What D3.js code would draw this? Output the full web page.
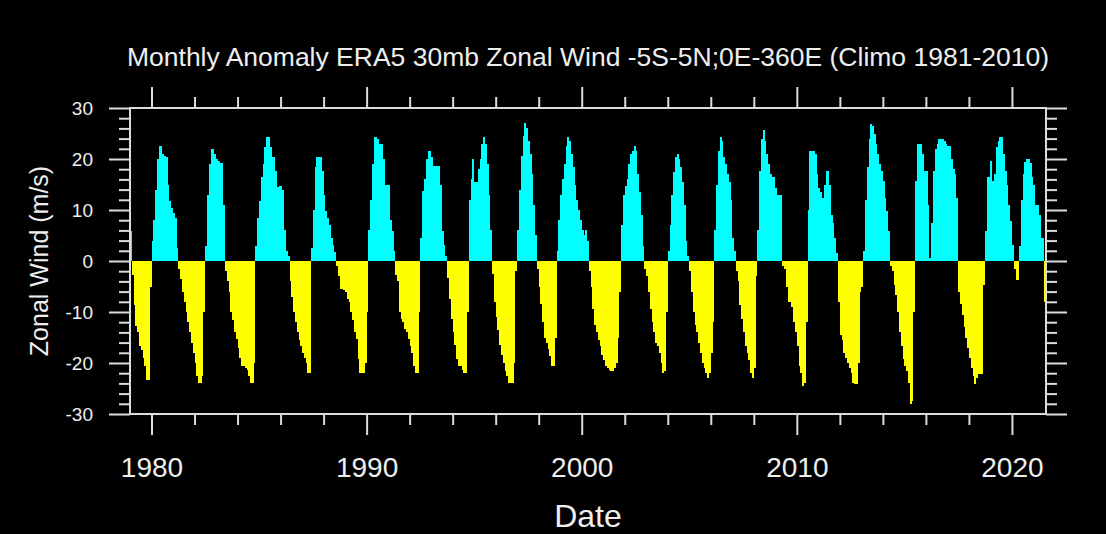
<!DOCTYPE html>
<html>
<head>
<meta charset="utf-8">
<script src="https://cdn.jsdelivr.net/npm/d3@7"></script>
<style>
  html, body { margin: 0; padding: 0; background: #000; }
  svg { display: block; }
</style>
</head>
<body>
<div id="chart"></div>
<script>
// monthly 30mb zonal wind anomaly (m/s), one row per year, Jan..Dec
var startYear = 1979;

var anom1979 = [5.8, -2.8, -8.7, -12.7, -14, -16.6, -17.5, -19, -20.5, -23.4, -23.4, -5];

var anom1980s = [
  4, 8, 14, 20, 22.6, 22.6, 21, 20.6, 20.3, 15, 11.7, 10.4,
  9.5, 8.4, 2.5, -1.5, -3.5, -6, -8, -10, -12, -14, -16, -18,
  -20, -22.5, -24, -24, -22.6, -10, 3, 13, 19, 22, 22, 21,
  20, 19.7, 19.3, 19.3, 11, -2, -4, -6, -10, -11.5, -14, -15.3,
  -17, -19, -20.5, -20.6, -21, -21.3, -22.5, -24, -24, -20, 3, 8.4,
  11.7, 16.4, 19, 22.3, 24.3, 24.3, 22.3, 20.3, 20.3, 17.7, 14.5, 14.7,
  14.7, 14, 6, 2, 1, -4, -7, -10, -12, -14, -15.5, -16.6,
  -18, -19, -20, -22, -22, 2.5, 10, 18.4, 20.3, 20.3, 20.3, 17.7,
  13, 9.8, 8.4, 7, 4.5, 3.2, 1.8, -1, -3, -5.4, -5.4, -5.7,
  -6, -7.4, -8, -10, -11.5, -14, -15.3, -19.3, -21.9, -22, -22, -20
];

var anom1990s = [
  -10, 6, 12, 19, 24.3, 24.3, 24, 23, 23, 20, 15, 15,
  15, 8, 5.8, 2, -2.8, -4, -10, -11.4, -12, -13.4, -14, -15.3,
  -16.6, -18, -20.5, -22, -22, -10, 4.5, 13.7, 16, 20, 21.6, 21.6,
  20.3, 18.7, 18.7, 18.7, 18.7, 15, 5.8, 3.2, 1, -3.4, -7.4, -11.4,
  -14, -16.5, -19.3, -20.6, -20.6, -21.3, -22, -22, -10, 12, 16, 20,
  15.5, 15.5, 18, 20, 23, 24.3, 23, 19, 13, 6, -2.5, -8,
  -11, -13.5, -16.5, -18.5, -20, -21.5, -22.5, -24, -24, -24, -20, -2,
  6, 14, 20.5, 24.5, 27, 26, 23.5, 21, 17, 11, 5, -1.5,
  -5, -8.5, -12, -15, -16, -17.3, -18.6, -20.5, -20.6, -15, 2, 8,
  13, 16, 19, 22.5, 24.3, 23.5, 21, 18.5, 15, 12, 10, 8
];

var anom2000s = [
  6, 5, 6, 4, -2, -5, -9.5, -12.5, -14, -15.5, -16.6, -18.5,
  -19.5, -20.6, -21, -21.3, -21.6, -21.6, -21, -20, -15, -6, 7, 13,
  14.8, 16, 19, 21, 21.5, 22.6, 21.5, 17, 13.5, 9, 3, -1.5,
  -3, -6, -9.5, -12, -14, -16, -16.6, -18, -20, -22, -21.5, -10,
  2, 7, 13, 17.5, 20.3, 21, 20, 18.5, 15.5, 11, 4, 1,
  -2, -6, -10, -12.5, -14, -16, -18, -20, -21, -22, -23, -22,
  -18, -12, 6, 15, 21.6, 24.3, 23.5, 20.3, 19, 17, 15.4, 12,
  4.5, 2, -2, -4, -8.7, -11.4, -14, -16.6, -18, -19.5, -22, -23,
  -21, -3, 6, 17.7, 24, 25.6, 23.6, 21, 19, 17, 16.4, 16.4,
  14.4, 13, 13, 13, -1, -1.5, -5, -8, -8, -9, -12, -14
];

var anom2010s = [
  -16.6, -20.5, -22, -24.5, -24, -12, 10, 21.6, 21.6, 21.6, 21, 17,
  14.4, 13.5, 12.4, 15, 17.7, 17.7, 15, 9, 7.5, 4.5, 1.5, -8,
  -14.6, -15.5, -18, -19, -20, -21, -22, -24, -24.2, -24.2, -20, -6,
  -5, 2, 12, 18.5, 24, 26.9, 26.5, 25, 23, 21, 19, 17.7,
  15.7, 12.4, 9.8, 5.8, -1, -2, -4.8, -6.7, -10, -14, -16.6, -19.3,
  -20.5, -21.6, -24, -28, -27.5, -10, 15.7, 23, 23, 23, 21, 17.7,
  17.7, 11, 0.5, 7.5, 17.7, 22, 23, 24, 24, 24, 23.5, 23,
  22.6, 22.6, 20, 18, 17, 12.4, -6, -8.5, -10.5, -13, -15, -17,
  -19, -21, -22.6, -24.2, -23, -22.2, -22.2, -22.2, -4.8, 5.8, 16.4, 16.4,
  19.7, 15.7, 17, 22.3, 23.5, 24.3, 24.3, 21, 17.7, 15, 11, 7.8
];

var anom2020s = [
  3.2, -1.5, -3.8, -3.8, 3, 12, 17, 19.5, 20, 20, 19.3, 16.4,
  15, 11, 11, 9, 4.5, 4.5, -8
];

var yMajorTicks = [-30, -20, -10, 0, 10, 20, 30];
var xMajorTicks = [1980, 1990, 2000, 2010, 2020];
var xTickLabels = ["1980", "1990", "2000", "2010", "2020"];

var titleText = "Monthly Anomaly ERA5 30mb Zonal Wind -5S-5N;0E-360E (Climo 1981-2010)";

var values = [].concat(anom1979, anom1980s, anom1990s, anom2000s, anom2010s, anom2020s);
var data = values.map(function(v, i) { return {t: startYear + i / 12, v: v}; });

var W = 1106, H = 534;
var box = {left: 130, top: 108, right: 1046, bottom: 414};
var lineColor = "#dcdcdc", textColor = "#eeeeee";
var font = "'Liberation Sans', Arial, Helvetica, sans-serif";

var svg = d3.select("#chart").append("svg")
    .attr("width", W)
    .attr("height", H)
    .style("background", "#000");

var x = d3.scaleLinear()
    .domain([startYear, startYear + values.length / 12])
    .range([box.left, box.right]);

var y = d3.scaleLinear()
    .domain([-30, 30])
    .range([box.bottom, box.top]);

// bars, cyan above zero, yellow below; edges snapped to whole pixels so they tile
svg.append("g")
    .attr("shape-rendering", "crispEdges")
  .selectAll("rect")
    .data(data)
  .enter().append("rect")
    .attr("x", function(d) { return Math.round(x(d.t)); })
    .attr("width", function(d) { return Math.round(x(d.t + 1 / 12)) - Math.round(x(d.t)); })
    .attr("y", function(d) { return Math.round(y(Math.max(d.v, 0))); })
    .attr("height", function(d) { return Math.abs(Math.round(y(d.v)) - Math.round(y(0))); })
    .attr("fill", function(d) { return d.v >= 0 ? "#00ffff" : "#ffff00"; });

// minor ticks every 2
var yMinor = d3.range(-28, 30, 2).filter(function(d) { return d % 10 !== 0; });
var xMinor = d3.range(1982, 2021, 2).filter(function(d) { return d % 10 !== 0; });

function drawAxis(axis, tx, ty) {
  var g = svg.append("g")
      .attr("transform", "translate(" + tx + "," + ty + ")")
      .call(axis);
  g.select(".domain").remove();
  g.selectAll(".tick line").attr("stroke", lineColor).attr("stroke-width", 2);
  g.selectAll(".tick text")
      .attr("fill", textColor)
      .style("font-family", font);
  return g;
}

var noLabel = function() { return ""; };

// left
drawAxis(d3.axisLeft(y).tickValues(yMajorTicks).tickSize(21).tickPadding(16)
    .tickFormat(function(d) { return String(d); }), box.left, 0)
  .selectAll(".tick text").style("font-size", "19px");
drawAxis(d3.axisLeft(y).tickValues(yMinor).tickSize(11).tickFormat(noLabel), box.left, 0);

// right
drawAxis(d3.axisRight(y).tickValues(yMajorTicks).tickSize(21).tickFormat(noLabel), box.right, 0);
drawAxis(d3.axisRight(y).tickValues(yMinor).tickSize(11).tickFormat(noLabel), box.right, 0);

// bottom
drawAxis(d3.axisBottom(x).tickValues(xMajorTicks).tickSize(21).tickPadding(22)
    .tickFormat(function(d, i) { return xTickLabels[i]; }), 0, box.bottom)
  .selectAll(".tick text").style("font-size", "28px");
drawAxis(d3.axisBottom(x).tickValues(xMinor).tickSize(11).tickFormat(noLabel), 0, box.bottom);

// top
drawAxis(d3.axisTop(x).tickValues(xMajorTicks).tickSize(21).tickFormat(noLabel), 0, box.top);
drawAxis(d3.axisTop(x).tickValues(xMinor).tickSize(11).tickFormat(noLabel), 0, box.top);

// frame
svg.append("rect")
    .attr("x", box.left)
    .attr("y", box.top)
    .attr("width", box.right - box.left)
    .attr("height", box.bottom - box.top)
    .attr("fill", "none")
    .attr("stroke", lineColor)
    .attr("stroke-width", 2);

// title
svg.append("text")
    .attr("x", (box.left + box.right) / 2)
    .attr("y", 66)
    .attr("text-anchor", "middle")
    .attr("fill", textColor)
    .style("font-family", font)
    .style("font-size", "26.5px")
    .text(titleText);

// y label
svg.append("text")
    .attr("transform", "translate(48," + y(0) + ") rotate(-90)")
    .attr("text-anchor", "middle")
    .attr("fill", textColor)
    .style("font-family", font)
    .style("font-size", "25px")
    .text("Zonal Wind (m/s)");

// x label
svg.append("text")
    .attr("x", (box.left + box.right) / 2)
    .attr("y", 527)
    .attr("text-anchor", "middle")
    .attr("fill", textColor)
    .style("font-family", font)
    .style("font-size", "32px")
    .text("Date");
</script>
</body>
</html>
